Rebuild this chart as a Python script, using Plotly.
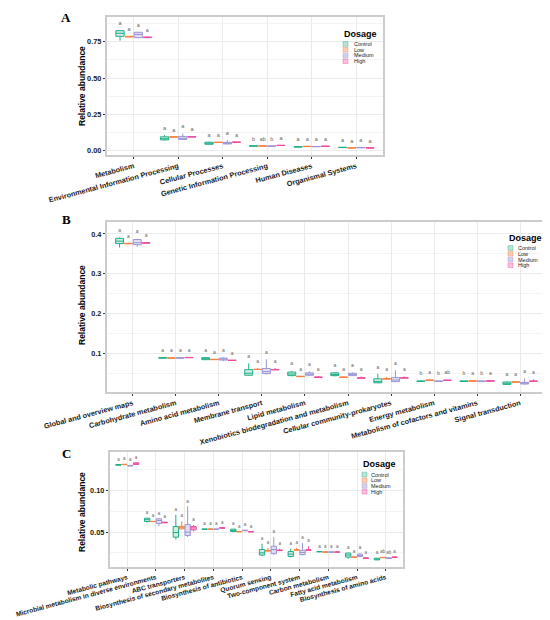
import plotly.graph_objects as go

# page body has an 8px margin, so the figure is drawn a bit smaller and offset
PAGE_OFF = 8
W, H = 542, 612

groups = ["Control", "Low", "Medium", "High"]
line_colors = ["#1FAE85", "#F5803E", "#9A95D6", "#EE4A9E"]
fill_colors = ["rgba(102,194,165,0.30)", "rgba(252,141,98,0.30)",
               "rgba(154,149,214,0.30)", "rgba(238,74,158,0.25)"]
key_fill = ["rgba(102,194,165,0.55)", "rgba(252,141,98,0.55)",
            "rgba(154,149,214,0.55)", "rgba(238,100,170,0.50)"]

# ---- panel A : level 1 ----
cats_a = ["Metabolism", "Environmental Information Processing", "Cellular Processes",
          "Genetic Information Processing", "Human Diseases", "Organismal Systems"]
# (lower whisker, q1, median, q3, upper whisker)
a_control = [(0.757, 0.787, 0.808, 0.826, 0.828), (0.070, 0.074, 0.082, 0.095, 0.108),
             (0.043, 0.044, 0.048, 0.058, 0.060), (0.030, 0.031, 0.032, 0.033, 0.034),
             (0.024, 0.025, 0.026, 0.027, 0.028), (0.020, 0.021, 0.022, 0.023, 0.024)]
a_low = [(0.782, 0.783, 0.785, 0.787, 0.788), (0.092, 0.093, 0.094, 0.095, 0.096),
         (0.055, 0.056, 0.057, 0.058, 0.059), (0.031, 0.0315, 0.032, 0.0325, 0.033),
         (0.027, 0.028, 0.029, 0.030, 0.030), (0.018, 0.0185, 0.019, 0.0195, 0.020)]
a_medium = [(0.774, 0.778, 0.800, 0.815, 0.818), (0.075, 0.077, 0.085, 0.098, 0.118),
            (0.045, 0.046, 0.050, 0.057, 0.072), (0.029, 0.030, 0.031, 0.032, 0.033),
            (0.026, 0.027, 0.028, 0.029, 0.032), (0.019, 0.020, 0.021, 0.022, 0.023)]
a_high = [(0.777, 0.778, 0.780, 0.782, 0.783), (0.093, 0.094, 0.095, 0.097, 0.098),
          (0.057, 0.0575, 0.058, 0.059, 0.060), (0.034, 0.035, 0.036, 0.037, 0.038),
          (0.028, 0.029, 0.030, 0.031, 0.031), (0.018, 0.0185, 0.019, 0.0195, 0.020)]
letters_a = [["a", "a", "a", "b", "a", "a"], ["a", "a", "a", "ab", "a", "a"],
             ["a", "a", "a", "b", "a", "a"], ["a", "a", "a", "a", "a", "a"]]

# ---- panel B : level 2 ----
cats_b = ["Global and overview maps", "Carbohydrate metabolism", "Amino acid metabolism",
          "Membrane transport", "Lipid metabolism", "Xenobiotics biodegradation and metabolism",
          "Cellular community-prokaryotes", "Energy metabolism",
          "Metabolism of cofactors and vitamins", "Signal transduction"]
b_control = [(0.366, 0.376, 0.382, 0.389, 0.391), (0.0885, 0.089, 0.0895, 0.090, 0.0905),
             (0.084, 0.085, 0.087, 0.090, 0.091), (0.045, 0.046, 0.051, 0.060, 0.076),
             (0.043, 0.045, 0.049, 0.054, 0.057), (0.043, 0.045, 0.048, 0.052, 0.054),
             (0.026, 0.027, 0.030, 0.037, 0.049), (0.030, 0.0305, 0.031, 0.0315, 0.032),
             (0.030, 0.0305, 0.031, 0.0315, 0.032), (0.022, 0.023, 0.026, 0.029, 0.030)]
b_low = [(0.375, 0.3755, 0.376, 0.3765, 0.377), (0.0885, 0.089, 0.089, 0.0895, 0.090),
         (0.0845, 0.085, 0.0855, 0.086, 0.0865), (0.060, 0.0603, 0.0605, 0.061, 0.064),
         (0.042, 0.0425, 0.043, 0.0435, 0.044), (0.040, 0.0405, 0.041, 0.0415, 0.043),
         (0.036, 0.0365, 0.037, 0.0375, 0.042), (0.033, 0.0333, 0.0335, 0.034, 0.0345),
         (0.031, 0.0313, 0.0315, 0.032, 0.0325), (0.028, 0.0285, 0.029, 0.0295, 0.030)]
b_medium = [(0.368, 0.373, 0.378, 0.386, 0.388), (0.0885, 0.089, 0.0893, 0.0897, 0.0902),
            (0.081, 0.084, 0.086, 0.089, 0.091), (0.048, 0.050, 0.055, 0.063, 0.086),
            (0.045, 0.046, 0.048, 0.052, 0.056), (0.044, 0.045, 0.047, 0.051, 0.053),
            (0.029, 0.030, 0.034, 0.0405, 0.058), (0.030, 0.0305, 0.031, 0.0315, 0.032),
            (0.030, 0.0305, 0.031, 0.0315, 0.032), (0.023, 0.024, 0.026, 0.028, 0.038)]
b_high = [(0.3765, 0.377, 0.3775, 0.378, 0.3785), (0.0895, 0.090, 0.0903, 0.0907, 0.091),
          (0.0825, 0.083, 0.0833, 0.0837, 0.084), (0.059, 0.0595, 0.060, 0.0605, 0.064),
          (0.040, 0.0405, 0.041, 0.0415, 0.044), (0.038, 0.0385, 0.039, 0.0395, 0.043),
          (0.0385, 0.039, 0.0393, 0.0397, 0.043), (0.0325, 0.033, 0.0333, 0.0337, 0.034),
          (0.031, 0.0313, 0.0316, 0.032, 0.0322), (0.030, 0.0305, 0.031, 0.0315, 0.036)]
letters_b = [["a"] * 7 + ["b", "b", "a"], ["a"] * 10,
             ["a"] * 7 + ["b", "b", "a"], ["a"] * 7 + ["ab", "a", "a"]]

# ---- panel C : level 3 ----
cats_c = ["Metabolic pathways", "Microbial metabolism in diverse environments", "ABC transporters",
          "Biosynthesis of secondary metabolites", "Biosynthesis of antibiotics", "Quorum sensing",
          "Two-component system", "Carbon metabolism", "Fatty acid metabolism",
          "Biosynthesis of amino acids"]
c_control = [(0.1305, 0.1307, 0.131, 0.1313, 0.1316), (0.0615, 0.0628, 0.065, 0.0668, 0.067),
             (0.041, 0.044, 0.0495, 0.0567, 0.071), (0.0533, 0.0534, 0.0535, 0.0537, 0.0538),
             (0.050, 0.0508, 0.052, 0.0536, 0.0538), (0.021, 0.0224, 0.025, 0.029, 0.036),
             (0.0195, 0.0207, 0.0235, 0.0267, 0.030), (0.0262, 0.0263, 0.0265, 0.0267, 0.0268),
             (0.018, 0.020, 0.0225, 0.0248, 0.025), (0.0163, 0.0166, 0.0176, 0.0186, 0.0188)]
c_low = [(0.1312, 0.1313, 0.1315, 0.1317, 0.1318), (0.0625, 0.0626, 0.0628, 0.063, 0.0632),
         (0.0535, 0.054, 0.056, 0.057, 0.063), (0.0533, 0.0534, 0.0535, 0.0537, 0.0538),
         (0.0503, 0.0504, 0.0506, 0.0508, 0.0509), (0.027, 0.0272, 0.0275, 0.028, 0.031),
         (0.028, 0.0282, 0.0285, 0.0288, 0.031), (0.0258, 0.0259, 0.026, 0.0261, 0.0262),
         (0.0194, 0.0196, 0.0198, 0.020, 0.0202), (0.019, 0.0192, 0.0194, 0.0196, 0.0198)]
c_medium = [(0.1295, 0.1297, 0.130, 0.1303, 0.1306), (0.057, 0.0605, 0.064, 0.066, 0.0665),
            (0.044, 0.046, 0.050, 0.059, 0.081), (0.0533, 0.0534, 0.0535, 0.0537, 0.0538),
            (0.0515, 0.0517, 0.052, 0.0523, 0.0525), (0.023, 0.024, 0.029, 0.033, 0.044),
            (0.022, 0.023, 0.0255, 0.028, 0.037), (0.0258, 0.0259, 0.026, 0.0261, 0.0262),
            (0.020, 0.0205, 0.0215, 0.0235, 0.025), (0.018, 0.0182, 0.0186, 0.019, 0.0194)]
c_high = [(0.131, 0.1315, 0.132, 0.1335, 0.1337), (0.061, 0.0612, 0.0616, 0.062, 0.0622),
          (0.051, 0.0527, 0.055, 0.0567, 0.0585), (0.0545, 0.0547, 0.055, 0.0553, 0.0556),
          (0.0502, 0.0503, 0.0505, 0.0507, 0.0508), (0.0275, 0.0277, 0.028, 0.0283, 0.030),
          (0.028, 0.0282, 0.0285, 0.0288, 0.033), (0.0258, 0.0259, 0.026, 0.0261, 0.0262),
          (0.018, 0.0183, 0.0186, 0.019, 0.0193), (0.0194, 0.0196, 0.0198, 0.020, 0.0202)]
letters_c = [["a"] * 10, ["a"] * 9 + ["ab"], ["a"] * 9 + ["ab"], ["a"] * 10]


def px(x):
    # screen pixel -> paper fraction
    return (x - PAGE_OFF) / W


def py(y):
    return 1 - (y - PAGE_OFF) / H


fig = go.Figure()

panels = [
    dict(cats=cats_a, data=[a_control, a_low, a_medium, a_high], letters=letters_a,
         ax="", box=(107, 383, 17, 155), yr=[-0.03, 0.92], dtick=0.25, fmt=".2f",
         off=0.045, lsize=5.5, xfont=7.3, tag="A", tag_xy=(66, 8), tag_anchor="top",
         ytitle_y=86, leg=(343, 34, 44, 352)),
    dict(cats=cats_b, data=[b_control, b_low, b_medium, b_high], letters=letters_b,
         ax="2", box=(107, 546, 222, 392), yr=[0.004, 0.43], dtick=0.1, fmt=".1f",
         off=0.017, lsize=5, xfont=7.3, tag="B", tag_xy=(66, 219), tag_anchor="middle",
         ytitle_y=305, leg=(508, 238, 248, 516)),
    dict(cats=cats_c, data=[c_control, c_low, c_medium, c_high], letters=letters_c,
         ax="3", box=(110, 403, 452, 567), yr=[0.008, 0.1465], dtick=0.05, fmt=".2f",
         off=0.006, lsize=4.5, xfont=6.6, tag="C", tag_xy=(66, 453), tag_anchor="middle",
         ytitle_y=512, leg=(362, 464, 474.5, 369)),
]

annotations = []
shapes = []
layout_axes = {}

for p in panels:
    n = len(p["cats"])
    xa, ya = "x" + p["ax"], "y" + p["ax"]
    for k, g in enumerate(groups):
        stats = p["data"][k]
        pos = [i + (k - 1.5) * 0.205 for i in range(n)]
        fig.add_trace(go.Box(
            x=pos, lowerfence=[s[0] for s in stats], q1=[s[1] for s in stats],
            median=[s[2] for s in stats], q3=[s[3] for s in stats],
            upperfence=[s[4] for s in stats], width=0.185, whiskerwidth=0,
            line=dict(color=line_colors[k], width=1), fillcolor=fill_colors[k],
            boxpoints=False, name=g, showlegend=False, xaxis=xa, yaxis=ya,
        ))
        fig.add_trace(go.Scatter(
            x=pos, y=[s[4] + p["off"] for s in stats], text=p["letters"][k],
            mode="text", textfont=dict(size=p["lsize"], color="#666666", family="Liberation Sans"),
            showlegend=False, hoverinfo="skip", cliponaxis=False, xaxis=xa, yaxis=ya,
        ))

    x0, x1, y0, y1 = p["box"]
    layout_axes["xaxis" + p["ax"]] = dict(
        domain=[px(x0), px(x1)], anchor=ya, range=[-0.6, n - 0.4], automargin=False,
        tickmode="array", tickvals=list(range(n)), ticktext=p["cats"], tickangle=-15,
        ticklabeloverflow="allow",
        tickfont=dict(size=p["xfont"], color="#1a1a1a", family="Liberation Sans", weight="bold"),
        ticks="outside", ticklen=2.5, tickwidth=0.8, tickcolor="#333333",
        showgrid=True, gridcolor="#EBEBEB", gridwidth=0.8, zeroline=False,
        showline=True, mirror=True, linecolor="#CCCCCC", linewidth=1.5,
    )
    layout_axes["yaxis" + p["ax"]] = dict(
        domain=[py(y1), py(y0)], anchor=xa, range=p["yr"], automargin=False,
        tick0=0, dtick=p["dtick"], tickformat=p["fmt"],
        tickfont=dict(size=7.3, color="#1a1a1a", family="Liberation Sans", weight="bold"),
        ticks="outside", ticklen=2.5, tickwidth=0.8, tickcolor="#333333",
        showgrid=True, gridcolor="#EBEBEB", gridwidth=0.8, zeroline=False,
        minor=dict(tick0=0, dtick=p["dtick"] / 2, showgrid=True, gridcolor="#F4F4F4",
                   gridwidth=0.5, ticks=""),
        showline=True, mirror=True, linecolor="#CCCCCC", linewidth=1.5,
    )

    # panel tag and y title
    annotations.append(dict(
        text=p["tag"], x=px(p["tag_xy"][0]), y=py(p["tag_xy"][1]), xref="paper", yref="paper",
        showarrow=False, xanchor="center", yanchor=p["tag_anchor"],
        font=dict(size=13, family="Liberation Serif", color="black", weight="bold"),
    ))
    annotations.append(dict(
        text="Relative abundance", x=px(82), y=py(p["ytitle_y"]), xref="paper", yref="paper",
        showarrow=False, textangle=-90, xanchor="center", yanchor="middle",
        font=dict(size=8.5, family="Liberation Sans", color="black", weight="bold"),
    ))

    # legend drawn by hand (plotly legend rows are too tall for this size)
    lx, ty, ky, tx = p["leg"]
    annotations.append(dict(
        text="Dosage", x=px(lx - 1), y=py(ty), xref="paper", yref="paper",
        showarrow=False, xanchor="left", yanchor="middle",
        font=dict(size=9, family="Liberation Sans", color="black", weight="bold"),
    ))
    for k, g in enumerate(groups):
        cy = ky + k * 5.75
        shapes.append(dict(
            type="rect", xref="paper", yref="paper",
            x0=px(lx), x1=px(lx + 5), y0=py(cy + 2.3), y1=py(cy - 2.3),
            fillcolor=key_fill[k], line=dict(color=line_colors[k], width=0.5),
            opacity=0.8,
        ))
        annotations.append(dict(
            text=g, x=px(tx), y=py(cy), xref="paper", yref="paper",
            showarrow=False, xanchor="left", yanchor="middle",
            font=dict(size=5.5, family="Liberation Sans", color="#222222"),
        ))

fig.update_layout(
    width=W, height=H, autosize=False,
    margin=dict(l=0, r=0, t=0, b=0),
    paper_bgcolor="white", plot_bgcolor="white",
    showlegend=False, annotations=annotations, shapes=shapes,
    **layout_axes,
)

fig.write_html("out.html")
